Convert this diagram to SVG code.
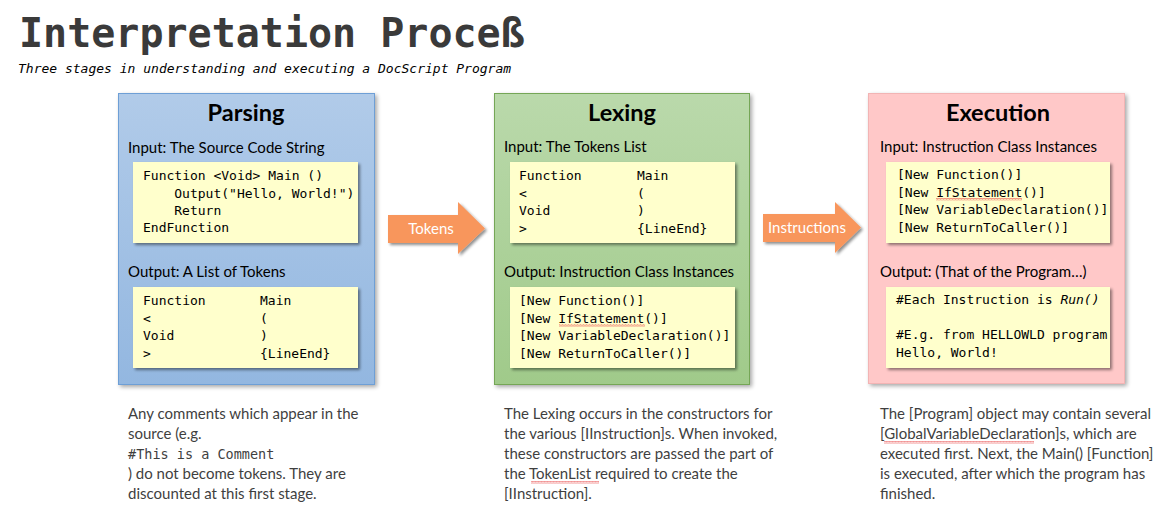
<svg xmlns="http://www.w3.org/2000/svg" width="1173" height="507" viewBox="0 0 1173 507">
<defs>
<linearGradient id="gBlue" x1="0" y1="0" x2="0" y2="1"><stop offset="0" stop-color="#b1cbe9"/><stop offset="1" stop-color="#93b7e0"/></linearGradient>
<linearGradient id="gGreen" x1="0" y1="0" x2="0" y2="1"><stop offset="0" stop-color="#bad9ab"/><stop offset="1" stop-color="#a0ca8a"/></linearGradient>
<filter id="sh" x="-5%" y="-5%" width="112%" height="112%"><feGaussianBlur in="SourceAlpha" stdDeviation="2"/><feOffset dx="2" dy="2"/><feComponentTransfer><feFuncA type="linear" slope="0.35"/></feComponentTransfer><feMerge><feMergeNode/><feMergeNode in="SourceGraphic"/></feMerge></filter>
<filter id="sh2" x="-5%" y="-5%" width="112%" height="115%"><feGaussianBlur in="SourceAlpha" stdDeviation="1.5"/><feOffset dx="1.5" dy="2"/><feComponentTransfer><feFuncA type="linear" slope="0.45"/></feComponentTransfer><feMerge><feMergeNode/><feMergeNode in="SourceGraphic"/></feMerge></filter>
<pattern id="squig" width="3" height="2.5" patternUnits="userSpaceOnUse"><path d="M0,2 L0.75,0.5 L1.5,2 L2.25,0.5 L3,2" fill="none" stroke="#e84a4a" stroke-width="0.6"/></pattern>
<style>
.title{font-family:"DejaVu Sans Mono","Liberation Mono",monospace;font-weight:bold;font-size:40px;fill:#3a3a3a}
.sub{font-family:"DejaVu Sans Mono","Liberation Mono",monospace;font-style:italic;font-size:13px;fill:#000}
.head{font-family:Lato,"Open Sans",sans-serif;font-weight:bold;font-size:23.5px;fill:#000;text-anchor:middle}
.lbl{font-family:Lato,"Open Sans",sans-serif;font-size:15px;fill:#000}
.code{font-family:"DejaVu Sans Mono","Liberation Mono",monospace;font-size:13px;fill:#000}
.desc{font-family:Lato,"Open Sans",sans-serif;font-size:15px;fill:#3f3f3f}
.dcode{font-family:"DejaVu Sans Mono","Liberation Mono",monospace;font-size:13.5px;fill:#3f3f3f}
.box{fill:#ffffcc;filter:url(#sh2)}
.arr{fill:#f8965c}
.alab{font-family:Lato,"Open Sans",sans-serif;font-size:15px;fill:#fff;text-anchor:middle}
.sq{fill:url(#squig)}
</style>
</defs>
<rect width="1173" height="507" fill="#fff"/>
<text class="title" x="19" y="47">Interpretation Proceß</text>
<text class="sub" x="18" y="73">Three stages in understanding and executing a DocScript Program</text>

<g id="parsing">
<rect x="118.5" y="93.5" width="256" height="291" fill="url(#gBlue)" stroke="#6e9fd6" filter="url(#sh)"/>
<text class="head" x="246" y="121">Parsing</text>
<text class="lbl" x="128" y="153">Input: The Source Code String</text>
<rect class="box" x="133" y="162" width="225" height="81"/>
<text class="code" x="143" y="180">Function &lt;Void&gt; Main ()</text>
<text class="code" x="174.3" y="197.5">Output("Hello, World!")</text>
<text class="code" x="174.3" y="214.5">Return</text>
<text class="code" x="143" y="231.5">EndFunction</text>
<text class="lbl" x="128" y="277">Output: A List of Tokens</text>
<rect class="box" x="133" y="287" width="225" height="81"/>
<text class="code" x="143" y="305">Function</text><text class="code" x="260" y="305">Main</text>
<text class="code" x="143" y="322.5">&lt;</text><text class="code" x="260" y="322.5">(</text>
<text class="code" x="143" y="340">Void</text><text class="code" x="260" y="340">)</text>
<text class="code" x="143" y="357.5">&gt;</text><text class="code" x="260" y="357.5">{LineEnd}</text>
</g>

<g id="lexing">
<rect x="494.5" y="93.5" width="255" height="291" fill="url(#gGreen)" stroke="#74a657" filter="url(#sh)"/>
<text class="head" x="622" y="121">Lexing</text>
<text class="lbl" x="504" y="152">Input: The Tokens List</text>
<rect class="box" x="510" y="162" width="225" height="81"/>
<text class="code" x="519" y="180">Function</text><text class="code" x="637" y="180">Main</text>
<text class="code" x="519" y="197.5">&lt;</text><text class="code" x="637" y="197.5">(</text>
<text class="code" x="519" y="215">Void</text><text class="code" x="637" y="215">)</text>
<text class="code" x="519" y="232.5">&gt;</text><text class="code" x="637" y="232.5">{LineEnd}</text>
<text class="lbl" x="504" y="277">Output: Instruction Class Instances</text>
<rect class="box" x="510" y="287" width="225" height="81"/>
<text class="code" x="519" y="305">[New Function()]</text>
<text class="code" x="519" y="322.5">[New IfStatement()]</text>
<rect class="sq" x="559" y="324" width="86" height="2.5"/>
<text class="code" x="519" y="340">[New VariableDeclaration()]</text>
<text class="code" x="519" y="357.5">[New ReturnToCaller()]</text>
</g>

<g id="execution">
<rect x="868.5" y="93.5" width="256" height="290" fill="#ffc8c8" stroke="#f2b4b4" filter="url(#sh)"/>
<text class="head" x="998" y="121">Execution</text>
<text class="lbl" x="880" y="152">Input: Instruction Class Instances</text>
<rect class="box" x="886" y="162" width="224" height="81"/>
<text class="code" x="897" y="179">[New Function()]</text>
<text class="code" x="897" y="196.5">[New IfStatement()]</text>
<rect class="sq" x="936" y="198" width="86" height="2.5"/>
<text class="code" x="897" y="214">[New VariableDeclaration()]</text>
<text class="code" x="897" y="231.5">[New ReturnToCaller()]</text>
<text class="lbl" x="880" y="277">Output: (That of the Program…)</text>
<rect class="box" x="886" y="287" width="224" height="81"/>
<text class="code" x="896" y="304">#Each Instruction is <tspan font-style="italic">Run()</tspan></text>
<text class="code" x="896" y="339">#E.g. from HELLOWLD program</text>
<text class="code" x="896" y="356.5">Hello, World!</text>
</g>

<g id="connectors">
<g id="arrow-tokens">
<path class="arr" d="M388,215 L458,215 L458,202 L485,228.5 L458,254 L458,243 L388,243 Z" filter="url(#sh2)"/>
<text class="alab" x="431" y="234">Tokens</text>
</g>
<g id="arrow-instructions">
<path class="arr" d="M763,214 L835,214 L835,202 L861,227.5 L835,253 L835,242 L763,242 Z" filter="url(#sh2)"/>
<text class="alab" x="807" y="233">Instructions</text>
</g>
</g>

<g id="notes">
<text class="desc" x="128" y="419">Any comments which appear in the</text>
<text class="desc" x="128" y="439">source (e.g.</text>
<text class="dcode" x="128" y="459">#This is a Comment</text>
<text class="desc" x="128" y="479">) do not become tokens. They are</text>
<text class="desc" x="128" y="499">discounted at this first stage.</text>

<text class="desc" x="504" y="419">The Lexing occurs in the constructors for</text>
<text class="desc" x="504" y="439">the various [IInstruction]s. When invoked,</text>
<text class="desc" x="504" y="459">these constructors are passed the part of</text>
<text class="desc" x="504" y="479">the TokenList required to create the</text>
<rect class="sq" x="531" y="481" width="68" height="2.5"/>
<text class="desc" x="504" y="499">[IInstruction].</text>

<text class="desc" x="880" y="419">The [Program] object may contain several</text>
<text class="desc" x="880" y="439">[GlobalVariableDeclaration]s, which are</text>
<rect class="sq" x="884" y="441" width="150" height="2.5"/>
<text class="desc" x="880" y="459">executed first. Next, the Main() [Function]</text>
<text class="desc" x="880" y="479">is executed, after which the program has</text>
<text class="desc" x="880" y="499">finished.</text>
</g>
</svg>
